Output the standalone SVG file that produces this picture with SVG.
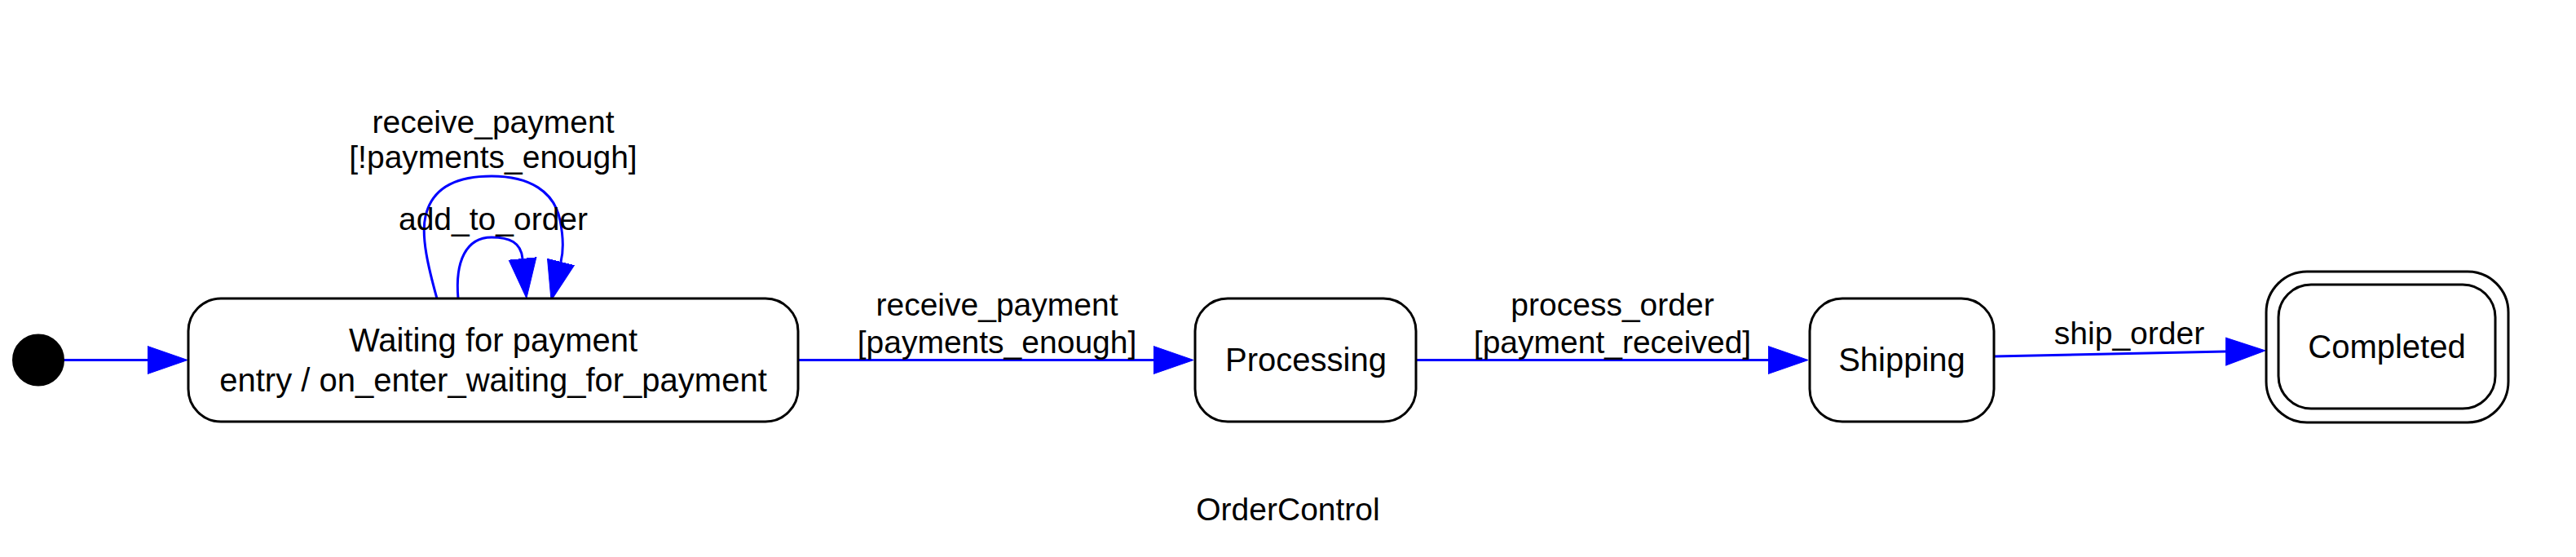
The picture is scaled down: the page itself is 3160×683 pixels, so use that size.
<svg xmlns="http://www.w3.org/2000/svg" width="3160" height="683" viewBox="0 0 3160 683">
<style>
.node{fill:#ffffff;stroke:#000000;stroke-width:3}
.nt{font-family:"Liberation Sans",Arial,sans-serif;font-size:40px;fill:#000;text-anchor:middle}
.et{font-family:"Liberation Sans",Arial,sans-serif;font-size:39px;fill:#000;text-anchor:middle}
.edge{fill:none;stroke:#0000ff;stroke-width:3;marker-end:url(#arrow)}
</style>
<defs>
<marker id="arrow" markerUnits="userSpaceOnUse" viewBox="0 -18 50 36" refX="0" refY="0" markerWidth="50" markerHeight="36" orient="auto">
<path d="M0,-17 L49,0 L0,17 z" fill="#0000ff" stroke="#0000ff" stroke-width="1"/>
</marker>
</defs>
<rect width="3160" height="683" fill="#ffffff"/>
<g id="connectors">
<path class="edge" d="M78,441.5 L181,441.5"/>
<path class="edge" d="M979,441.5 L1415,441.5"/>
<path class="edge" d="M1737,441.5 L2169,441.5"/>
<path class="edge" d="M2446,437 L2730,431"/>
<path class="edge" d="M536,366 C526,330 516,290 522,265 C530,230 560,216 603,216 C650,216 680,235 687,270 C691,290 692,305 688,321"/>
<path class="edge" d="M562,366 C558,320 572,291 603,291 C625,291 639,297 641,317"/>
<text class="et" x="605" y="163">receive_payment</text>
<text class="et" x="605" y="206">[!payments_enough]</text>
<text class="et" x="605" y="282">add_to_order</text>
<text class="et" x="1223" y="387">receive_payment</text>
<text class="et" x="1223" y="433">[payments_enough]</text>
<text class="et" x="1978" y="387">process_order</text>
<text class="et" x="1978" y="433">[payment_received]</text>
<text class="et" x="2612" y="422">ship_order</text>
</g>
<g id="initial">
<circle cx="47" cy="441.5" r="31" fill="#000000" stroke="#000000" stroke-width="2"/>
</g>
<g id="waiting_for_payment">
<rect class="node" x="231" y="366" width="748" height="151" rx="40" ry="40"/>
<text class="nt" x="605" y="431">Waiting for payment</text>
<text class="nt" x="605" y="480">entry / on_enter_waiting_for_payment</text>
</g>
<g id="processing">
<rect class="node" x="1466" y="366" width="271" height="151" rx="40" ry="40"/>
<text class="nt" x="1602" y="455">Processing</text>
</g>
<g id="shipping">
<rect class="node" x="2220" y="366" width="226" height="151" rx="40" ry="40"/>
<text class="nt" x="2333" y="455">Shipping</text>
</g>
<g id="completed">
<rect class="node" x="2780" y="333" width="297" height="185" rx="50" ry="50"/>
<rect class="node" x="2795" y="349" width="266" height="152" rx="40" ry="40"/>
<text class="nt" x="2928" y="439">Completed</text>
</g>
<g id="graph_label">
<text class="et" x="1580" y="638">OrderControl</text>
</g>
</svg>
